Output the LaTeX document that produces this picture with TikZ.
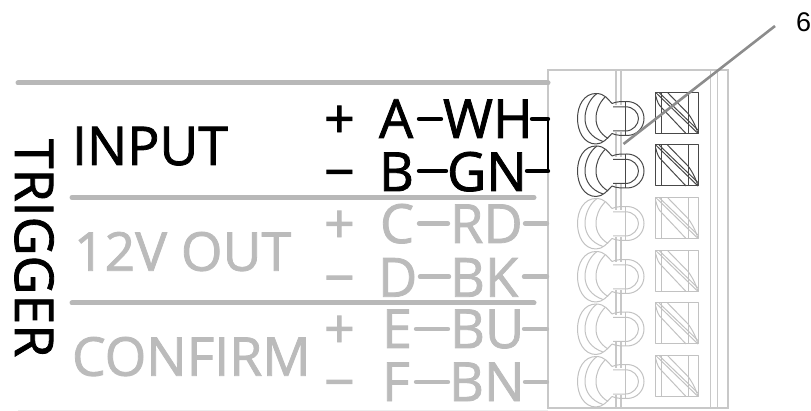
\documentclass[tikz,border=0pt]{standalone}
\usepackage{fontspec}
\setmainfont{Open Sans}[RawFeature={embolden=1.5}]
\newfontfamily\calloutfont{Liberation Sans}
\definecolor{barg}{HTML}{B8B8B8}
\definecolor{txtg}{HTML}{BBBBBB}
\definecolor{frameg}{HTML}{C8C8C8}
\definecolor{termg}{HTML}{C2C2C2}
\definecolor{termd}{HTML}{484848}
\definecolor{leader}{HTML}{8C8C8C}
\tikzset{
  lbl/.style={anchor=base west,inner sep=0pt,outer sep=0pt,font=\fontsize{53.5}{53.5}\selectfont},
  sml/.style={anchor=base west,inner sep=0pt,outer sep=0pt,font=\fontsize{54}{54}\selectfont},
  bar/.style={draw=barg,line width=5pt,line cap=round},
  wire/.style={line width=4.4pt,line cap=round},
  frame/.style={draw=frameg,line width=1.4pt},
  termline/.style={line width=1pt,line join=round},
}
\newcommand{\myterminal}[2]{%
  \begin{scope}[shift={(0,#1)},termline,draw=#2]
    % lobe and bulb outline
    \draw (612,-15) .. controls (608,-19) and (605,-25) .. (596,-25)
      .. controls (584,-25) and (577.5,-13) .. (577.5,0)
      .. controls (577.5,13) and (584,25.5) .. (596,25.5)
      .. controls (603,25.5) and (607,20) .. (612,15);
    \draw (612,-15) .. controls (616,-17) and (622,-17) .. (627,-17)
      .. controls (637,-17) and (644,-9) .. (644,0)
      .. controls (644,9) and (637,17) .. (627,17)
      .. controls (622,17) and (616,17) .. (612,15);
    % inner bulb
    \draw (613,-11.7) -- (625.7,-11.7) .. controls (633,-11.7) and (638.5,-6) .. (638.5,0)
      .. controls (638.5,6) and (633,12.5) .. (625.7,12.5) -- (613,12.5);
    \draw (625.7,-17) -- (625.7,17.5);
    % crescents
    \draw (597,-25) .. controls (590,-20) and (585,-10) .. (585,0)
      .. controls (585,10) and (591,19) .. (603,23);
    \draw (605,-21.5) .. controls (599,-15) and (596,-8) .. (596,0)
      .. controls (596,8) and (600,15) .. (608,20);
    % wire clamp
    \draw (655.7,-26) rectangle (698,15);
    \draw (661.5,-26) -- (661.5,15);
    \draw (688,-26) -- (688,15);
    \draw (655.7,-26) -- (698,15);
    \draw (659,-26) -- (698,11.5);
    \draw (667.5,-26) -- (688,-5) .. controls (692,0) and (696,8) .. (698,15);
    \draw (655.7,-23) .. controls (657,-17) and (659,-13) .. (661.5,-11) -- (686,15);
  \end{scope}}
\begin{document}
\begin{tikzpicture}[x=1pt,y=-1pt]
\useasboundingbox (0,0) rectangle (811,411);
% housing
\draw[frame] (548,70) rectangle (728,408);
\draw[frame] (710.3,70) -- (710.3,408);
\draw[frame] (717.5,70) -- (717.5,408);
\foreach \ya/\yb in {70/105,132/157,184/210,237/262,290/315,342/368,395/408}{
  \draw[frame] (616,\ya) -- (616,\yb);
  \draw[frame] (621,\ya) -- (621,\yb);
}
% bars
\draw[bar] (18,83) -- (548,83);
\draw[bar] (72,197.5) -- (534,197.5);
\draw[bar] (72,303) -- (534,303);
\draw[draw=black!7,line width=1pt] (18,410) -- (548,410);
% terminals
\myterminal{118.5}{termd}
\myterminal{171}{termd}
\myterminal{223.5}{termg}
\myterminal{276.5}{termg}
\myterminal{329}{termg}
\myterminal{381.5}{termg}
% labels
\node[lbl] (input) at (72,165) {INPUT};
\node[lbl,text=txtg] (twelve) at (74,270.7) {12V OUT};
\node[lbl,text=txtg] (confirm) at (72,375.7) {CONFIRM};
\node[lbl,rotate=-90] (trigger) at (15,139) {TRIGGER};
\node[sml] (p1) at (324,138) {+};
\node[sml] (m1) at (324,191) {−};
\node[sml,text=txtg] (p2) at (324,243) {+};
\node[sml,text=txtg] (m2) at (324,296.7) {−};
\node[sml,text=txtg] (p3) at (324,348) {+};
\node[sml,text=txtg] (m3) at (324,401) {−};
\node[sml] (a) at (379,138) {A};
\node[sml] (b) at (379,191) {B};
\node[sml,text=txtg] (c) at (380,243) {C};
\node[sml,text=txtg] (d) at (378,296.7) {D};
\node[sml,text=txtg] (e) at (382,348) {E};
\node[sml,text=txtg] (f) at (382,401) {F};
\node[sml] (wh) at (443,138) {WH};
\node[sml] (gn) at (447,191) {GN};
\node[sml,text=txtg] (rd) at (450,243) {RD};
\node[sml,text=txtg] (bk) at (450,296.7) {BK};
\node[sml,text=txtg] (bu) at (450,348) {BU};
\node[sml,text=txtg] (bn) at (449,401) {BN};
% wires
\draw[wire] (419,119) -- (441,119);
\draw[wire] (532,119) -- (548,119);
\draw[wire] (419,171) -- (446,171);
\draw[wire] (527,171) -- (548,171);
\draw[line width=1.6pt] (548,118) -- (548,172);
\draw[wire,txtg] (419,223.5) -- (448,223.5);
\draw[wire,txtg] (525,223.5) -- (547,223.5);
\draw[wire,txtg] (420,276.7) -- (449,276.7);
\draw[wire,txtg] (524,276.7) -- (547,276.7);
\draw[wire,txtg] (416,329) -- (448,329);
\draw[wire,txtg] (524,329) -- (547,329);
\draw[wire,txtg] (416,382) -- (448,382);
\draw[wire,txtg] (525,382) -- (547,382);
% callout
\node[anchor=base west,inner sep=0pt,font=\calloutfont\fontsize{27}{27}\selectfont] (six) at (796,32) {6};
\coordinate (leadend) at (623.5,144);
\coordinate (leadstart) at (775,26);
\draw[draw=leader,line width=2.6pt] (leadstart) -- (leadend);
\end{tikzpicture}
\end{document}
